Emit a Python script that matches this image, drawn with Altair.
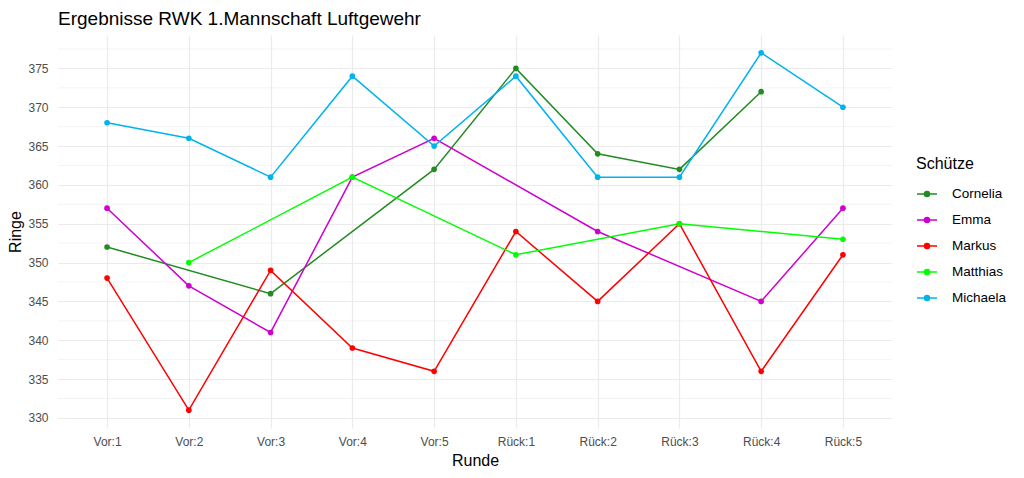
import altair as alt
import pandas as pd

rounds = ["Vor:1", "Vor:2", "Vor:3", "Vor:4", "Vor:5",
          "Rück:1", "Rück:2", "Rück:3", "Rück:4", "Rück:5"]
shooters = ["Cornelia", "Emma", "Markus", "Matthias", "Michaela"]
colors = ["#228B22", "#CD00CD", "#FF0000", "#00FF00", "#00B2EE"]

cornelia = [352, None, 346, None, 362, 375, 364, 362, 372, None]
emma = [357, 347, 341, 361, 366, None, 354, None, 345, 357]
markus = [348, 331, 349, 339, 336, 354, 345, 355, 336, 351]
matthias = [None, 350, None, 361, None, 351, None, 355, None, 353]
michaela = [368, 366, 361, 374, 365, 374, 361, 361, 377, 370]

major_y = [330, 335, 340, 345, 350, 355, 360, 365, 370, 375]
minor_y = [332.5, 337.5, 342.5, 347.5, 352.5, 357.5, 362.5, 367.5, 372.5, 377.5]

rows = []
for name, vals in zip(shooters, [cornelia, emma, markus, matthias, michaela]):
    for r, v in zip(rounds, vals):
        if v is not None:
            rows.append({"Runde": r, "Ringe": v, "Schütze": name})
df = pd.DataFrame(rows)

FONT = "Liberation Sans"
ydom = [328.7, 379.3]

xscale = alt.Scale(type="point", domain=rounds, padding=0.6)
yscale = alt.Scale(domain=ydom, nice=False, zero=False)

legend_path = "M-1,0L1,0M-0.25,0A0.25,0.25,0,1,0,0.25,0A0.25,0.25,0,1,0,-0.25,0Z"

minor = alt.Chart(pd.DataFrame({"y": minor_y})).mark_rule(
    color="#EBEBEB", strokeWidth=0.6
).encode(y=alt.Y("y:Q", scale=yscale))

base = alt.Chart(df)

lines = base.mark_line(strokeWidth=1.5).encode(
    x=alt.X("Runde:N", scale=xscale, sort=rounds,
            axis=alt.Axis(title="Runde", labelAngle=0, grid=True, gridColor="#EBEBEB",
                          gridWidth=1.2, ticks=False, domain=False, labelPadding=8,
                          labelFont=FONT, labelFontSize=12, labelColor="#4D4D4D",
                          titleFont=FONT, titleFontSize=16, titleFontWeight="normal",
                          titleColor="#000000", titlePadding=5)),
    y=alt.Y("Ringe:Q", scale=yscale,
            axis=alt.Axis(title="Ringe", values=major_y, grid=True, gridColor="#EBEBEB",
                          gridWidth=1.2, ticks=False, domain=False, labelPadding=10,
                          labelFont=FONT, labelFontSize=12, labelColor="#4D4D4D",
                          titleFont=FONT, titleFontSize=16, titleFontWeight="normal",
                          titleColor="#000000", titlePadding=4)),
    stroke=alt.Stroke("Schütze:N", scale=alt.Scale(domain=shooters, range=colors),
                      legend=alt.Legend(title="Schütze")),
    detail="Schütze:N",
)

points = base.mark_point(filled=True, size=32, opacity=1).encode(
    x=alt.X("Runde:N", scale=xscale, sort=rounds),
    y=alt.Y("Ringe:Q", scale=yscale),
    fill=alt.Fill("Schütze:N", scale=alt.Scale(domain=shooters, range=colors),
                  legend=alt.Legend(title="Schütze")),
)

chart = alt.layer(minor, lines, points).properties(
    width=834, height=393,
    autosize=alt.AutoSizeParams(type="none"),
    padding={"left": 50, "top": 27, "right": 124, "bottom": 42},
    title=alt.Title("Ergebnisse RWK 1.Mannschaft Luftgewehr", anchor="start",
                    frame="group", font=FONT, fontSize=19, fontWeight="normal",
                    color="#000000", baseline="alphabetic", offset=12, dy=21),
).configure_view(stroke=None).configure_legend(
    orient="none", legendX=858, legendY=121,
    symbolType=legend_path, symbolSize=400, symbolStrokeWidth=1.5,
    labelFont=FONT, labelFontSize=13.5, labelColor="#000000", labelOffset=14,
    titleFont=FONT, titleFontSize=16, titleFontWeight="normal", titleColor="#000000",
    titlePadding=11, rowPadding=8,
)

chart.save("out.html", embed_options={"renderer": "svg", "actions": False})
